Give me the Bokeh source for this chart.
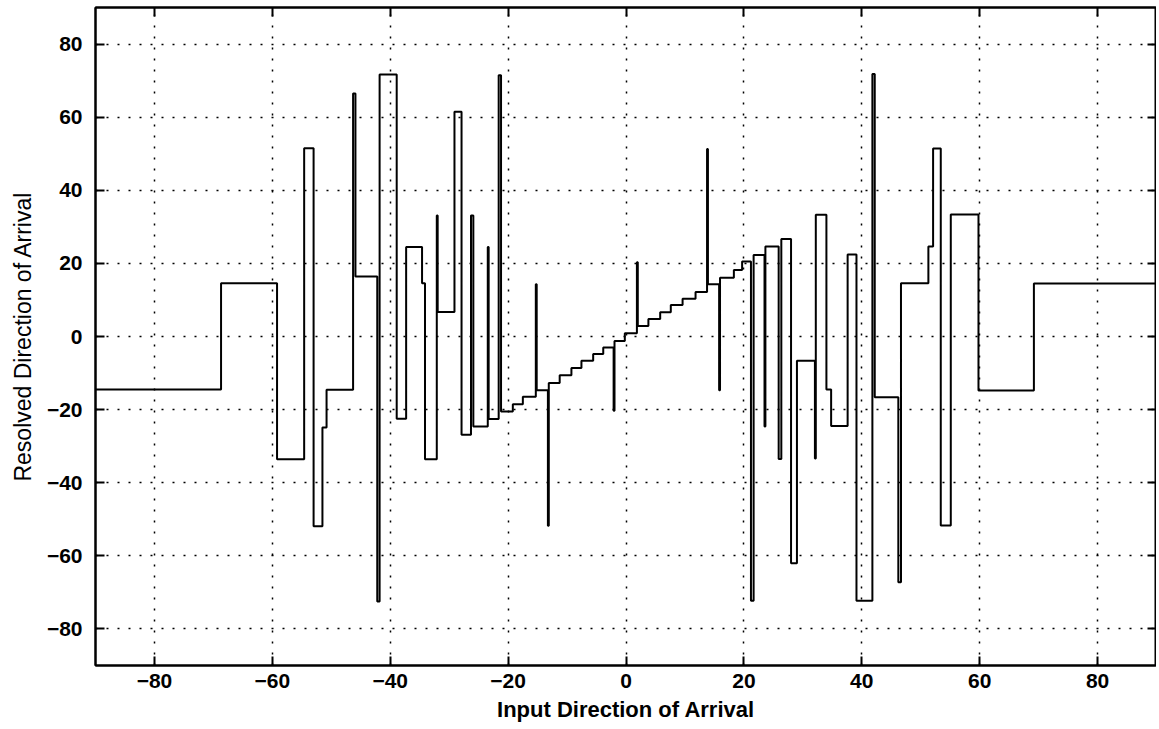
from bokeh.plotting import figure
from bokeh.models import LinearAxis, FixedTicker, Range1d
from bokeh.embed import file_html
from bokeh.resources import INLINE

# Step function: each segment starts at seg_start[i] and holds seg_level[i]
seg_start = [-90, -68.7, -59.2, -54.6, -53.0, -51.5, -50.8, -46.3, -45.9, -42.2,
             -41.8, -38.9, -37.3, -34.6, -34.1, -32.1, -31.95, -29.1, -27.9, -26.3,
             -25.9, -23.45, -23.3, -21.6, -21.2, -19.2, -17.5, -15.3, -15.15, -13.25,
             -13.1, -11.25, -9.26, -7.56, -5.57, -3.86, -2.1, -1.95, -0.2, 1.85,
             2.0, 3.8, 5.8, 7.6, 9.6, 11.8, 13.75, 13.9, 15.8, 15.95,
             18.3, 19.7, 21.2, 21.65, 23.5, 23.65, 25.9, 26.35, 28.0, 29.0,
             32.05, 32.2, 34.0, 34.8, 37.6, 39.1, 41.8, 42.2, 46.2, 46.65,
             51.3, 52.1, 53.4, 55.1, 59.8, 69.2]
seg_level = [-14.5, 14.6, -33.6, 51.5, -51.9, -24.9, -14.6, 66.5, 16.4, -72.5,
             71.7, -22.5, 24.5, 14.6, -33.6, 33.1, 6.7, 61.5, -26.9, 33.1,
             -24.6, 24.5, -22.6, 71.5, -20.5, -18.5, -16.5, 14.3, -14.7, -51.8,
             -12.7, -10.6, -8.6, -6.6, -4.8, -3.0, -20.3, -1.2, 0.9, 20.3,
             2.9, 4.8, 6.6, 8.6, 10.3, 12.2, 51.3, 14.3, -14.7, 16.1,
             18.2, 20.5, -72.3, 22.3, -24.6, 24.6, -33.5, 26.7, -62.0, -6.6,
             -33.4, 33.3, -14.5, -24.5, 22.4, -72.3, 71.8, -16.6, -67.2, 14.6,
             24.6, 51.4, -51.7, 33.4, -14.8, 14.5]
x_end = 90

tick_values = [-80, -60, -40, -20, 0, 20, 40, 60, 80]

x_label = "Input Direction of Arrival"
y_label = "Resolved Direction of Arrival"

FONT = "Liberation Sans"

p = figure(width=1156, height=724,
           x_range=Range1d(-90, 90), y_range=Range1d(-90, 90),
           output_backend="svg", toolbar_location=None,
           min_border_left=95, min_border_top=7, min_border_right=0,
           min_border_bottom=0)
p.background_fill_color = "white"
p.border_fill_color = "white"
p.outline_line_color = "black"
p.outline_line_width = 2

xs = list(seg_start) + [x_end]
ys = list(seg_level) + [seg_level[-1]]
p.step(xs, ys, mode="after", line_color="black", line_width=2)

ticker = FixedTicker(ticks=tick_values)

def style_axis(ax, labels=True):
    ax.ticker = ticker
    ax.axis_line_color = "black"
    ax.axis_line_width = 2
    ax.major_tick_line_color = "black"
    ax.major_tick_line_width = 2
    ax.major_tick_in = 9
    ax.major_tick_out = 0
    ax.minor_tick_line_color = None
    if labels:
        ax.major_label_text_font = FONT
        ax.major_label_text_font_size = "21px"
        ax.major_label_text_font_style = "bold"
        ax.major_label_text_color = "black"
    else:
        ax.major_label_text_font_size = "0px"
        ax.major_label_text_color = None
        ax.major_label_standoff = 0

style_axis(p.xaxis[0])
style_axis(p.yaxis[0])
p.xaxis[0].major_label_standoff = 8
p.yaxis[0].major_label_standoff = 13
p.xaxis[0].axis_label = x_label
p.xaxis[0].axis_label_text_font = FONT
p.xaxis[0].axis_label_text_font_size = "22px"
p.xaxis[0].axis_label_text_font_style = "bold"
p.xaxis[0].axis_label_text_color = "black"
p.xaxis[0].axis_label_standoff = 6
p.yaxis[0].axis_label = y_label
p.yaxis[0].axis_label_text_font = FONT
p.yaxis[0].axis_label_text_font_size = "23px"
p.yaxis[0].axis_label_text_font_style = "normal"
p.yaxis[0].axis_label_text_color = "black"
p.yaxis[0].axis_label_standoff = 8

top = LinearAxis()
style_axis(top, labels=False)
p.add_layout(top, "above")
right = LinearAxis()
style_axis(right, labels=False)
p.add_layout(right, "right")

for g in (p.xgrid[0], p.ygrid[0]):
    g.ticker = ticker
    g.grid_line_color = "black"
    g.grid_line_width = 1.5
    g.grid_line_dash = "2 9"

open("out.html", "w").write(file_html(p, INLINE))
